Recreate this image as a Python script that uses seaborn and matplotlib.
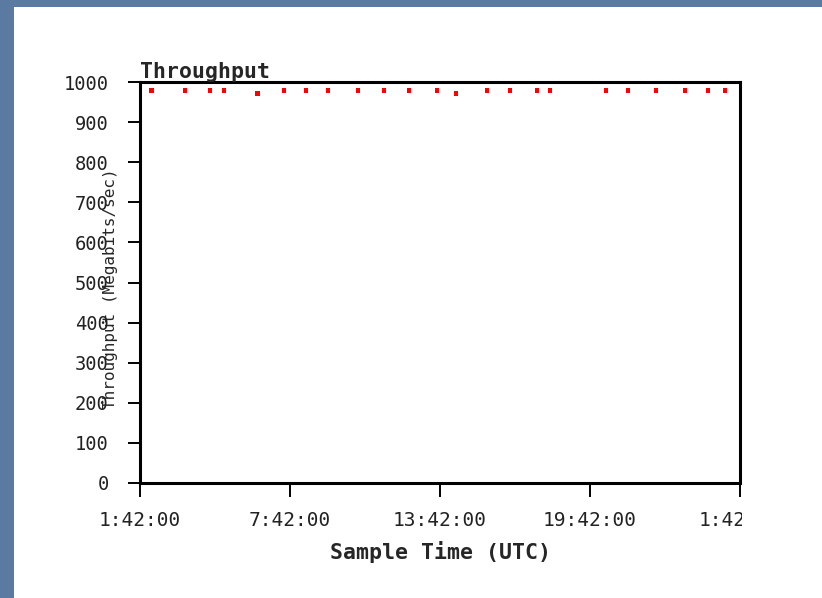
import matplotlib
matplotlib.use("Agg")
import matplotlib.pyplot as plt
from matplotlib.patches import Rectangle
from matplotlib.transforms import Bbox, TransformedBbox
import seaborn as sns
import pandas as pd

# ---- data ----
sample_hours = [0.47, 1.80, 2.80, 3.36, 4.71, 5.76, 6.64, 7.52, 8.72, 9.76,
                10.76, 11.88, 12.64, 13.88, 14.80, 15.88, 16.40, 18.64,
                19.52, 20.64, 21.80, 22.72, 23.40]          # hours after 1:42:00 UTC
throughput = [978, 978, 978, 978, 972, 978, 978, 978, 978, 978,
              978, 978, 972, 978, 978, 978, 978, 978,
              978, 978, 978, 978, 978]                      # Megabits/sec
x_ticks = [0, 6, 12, 18, 24]
x_tick_labels = ["1:42:00", "7:42:00", "13:42:00", "19:42:00", "1:42:00"]
y_ticks = [0, 100, 200, 300, 400, 500, 600, 700, 800, 900, 1000]

df = pd.DataFrame({"hours": sample_hours, "throughput": throughput})

sns.set_style("white")
plt.rcParams["font.family"] = ["DejaVu Sans Mono", "DejaVu Sans"]

W, H = 822, 598
fig = plt.figure(figsize=(W / 100, H / 100), dpi=100, facecolor="#5a7aa2")
fig.patches.append(Rectangle((14 / W, 0), 1, (H - 7) / H, transform=fig.transFigure,
                             facecolor="white", edgecolor="none", zorder=-10))

ax = fig.add_axes([140 / W, 1 - 483 / H, 600 / W, 401 / H])
ax.set_facecolor("white")

sns.scatterplot(data=df, x="hours", y="throughput", ax=ax, marker="s", s=12,
                color="#ff0000", edgecolor="none", linewidth=0)

ax.set_xlim(0, 24)
ax.set_ylim(0, 1000)
ax.set_xticks(x_ticks)
ax.set_xticklabels(x_tick_labels)
ax.set_yticks(y_ticks)

for sp in ax.spines.values():
    sp.set_visible(True)
    sp.set_color("black")
    sp.set_linewidth(2.2)

ax.tick_params(axis="x", direction="out", length=10, width=1.4, pad=10,
               labelsize=14, colors="black", bottom=True, top=False)
ax.tick_params(axis="y", direction="out", length=8.5, width=1.4, pad=14,
               labelsize=13.5, colors="black", left=True, right=False)
for lab in ax.get_xticklabels() + ax.get_yticklabels():
    lab.set_color("#222222")

ax.set_title("Throughput", loc="left", fontsize=15.5, fontweight="bold", pad=3)
ax.set_xlabel("Sample Time (UTC)", fontsize=15.5, fontweight="bold", labelpad=8)
ax.set_ylabel("Throughput (Megabits/sec)", fontsize=11.5)
ax.yaxis.set_label_coords(-0.037, 0.485)

fig.canvas.draw()
clip = TransformedBbox(Bbox([[0, 0], [742 / W, 1]]), fig.transFigure)
last = ax.xaxis.get_major_ticks()[-1].label1
last.set_clip_on(True)
last.set_clip_box(clip)

fig.savefig("out.png", dpi=100, facecolor=fig.get_facecolor())
